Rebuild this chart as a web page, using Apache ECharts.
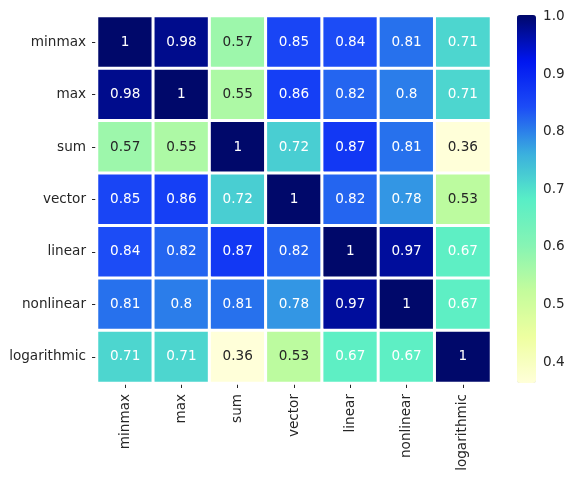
<!DOCTYPE html>
<html>
<head>
<meta charset="utf-8">
<script src="https://cdn.jsdelivr.net/npm/echarts@6/dist/echarts.min.js"></script>
<style>
  html, body { margin: 0; padding: 0; background: #fff; }
  #main { width: 575px; height: 479px; }
</style>
</head>
<body>
<div id="main"></div>
<script>
// 归一化方法相关性矩阵
const methods = ['minmax', 'max', 'sum', 'vector', 'linear', 'nonlinear', 'logarithmic'];
const rowMinmax = [1, 0.98, 0.57, 0.85, 0.84, 0.81, 0.71];
const rowMax = [0.98, 1, 0.55, 0.86, 0.82, 0.8, 0.71];
const rowSum = [0.57, 0.55, 1, 0.72, 0.87, 0.81, 0.36];
const rowVector = [0.85, 0.86, 0.72, 1, 0.82, 0.78, 0.53];
const rowLinear = [0.84, 0.82, 0.87, 0.82, 1, 0.97, 0.67];
const rowNonlinear = [0.81, 0.8, 0.81, 0.78, 0.97, 1, 0.67];
const rowLogarithmic = [0.71, 0.71, 0.36, 0.53, 0.67, 0.67, 1];
const colorbarTicks = [0.4, 0.5, 0.6, 0.7, 0.8, 0.9, 1.0];

const rows = [rowMinmax, rowMax, rowSum, rowVector, rowLinear, rowNonlinear, rowLogarithmic];
let heatData = [];
rows.forEach((row, y) => {
    row.forEach((v, x) => {
        heatData.push([x, y, v]);
    });
});

const font = 'DejaVu Sans';
const txt = '#262626';
const fs = 13.6;

let myChart = echarts.init(document.getElementById('main'));
let option = {
    animation: false,
    textStyle: { fontFamily: font },
    grid: [
        { left: 97, top: 16, width: 394, height: 367 },
        { left: 517, top: 15, width: 19, height: 368 }
    ],
    xAxis: [
        {
            type: 'category',
            data: methods,
            gridIndex: 0,
            axisLine: { show: false },
            axisTick: { show: true, length: 5, alignWithLabel: true, lineStyle: { color: txt } },
            axisLabel: { rotate: 90, fontSize: fs, color: txt, margin: 11, fontFamily: font },
            splitLine: { show: false }
        },
        {
            type: 'value',
            gridIndex: 1,
            show: false
        }
    ],
    yAxis: [
        {
            type: 'category',
            data: methods,
            inverse: true,
            gridIndex: 0,
            axisLine: { show: false },
            axisTick: { show: true, length: 5, alignWithLabel: true, lineStyle: { color: txt } },
            axisLabel: { fontSize: fs, color: txt, margin: 11, fontFamily: font },
            splitLine: { show: false }
        },
        {
            type: 'value',
            gridIndex: 1,
            position: 'right',
            min: 0.3635,
            max: 1.003,
            axisLine: { show: false },
            axisTick: { show: true, length: 4, customValues: colorbarTicks, lineStyle: { color: txt } },
            axisLabel: {
                show: true, fontSize: fs, color: txt, margin: 7, fontFamily: font,
                customValues: colorbarTicks,
                formatter: v => v.toFixed(1)
            },
            splitLine: { show: false }
        }
    ],
    visualMap: {
        type: 'continuous',
        min: 0.36,
        max: 1.0,
        seriesIndex: 0,
        orient: 'vertical',
        left: 517,
        top: 15,
        itemWidth: 19,
        itemHeight: 368,
        padding: 0,
        calculable: false,
        text: ['', ''],
        textGap: 0,
        inRange: {
            color: ['#ffffd9', '#eeffa0', '#c4fc9c', '#86f4b4', '#58eec6',
                '#3aaede', '#1c4cf6', '#0016f0', '#00086a']
        }
    },
    series: [
        {
            type: 'heatmap',
            data: heatData,
            xAxisIndex: 0,
            yAxisIndex: 0,
            itemStyle: { borderColor: '#fff', borderWidth: 3 },
            label: {
                show: true,
                fontSize: fs,
                fontFamily: font,
                formatter: p => {
                    const v = p.value[2];
                    return v < 0.6 ? '{d|' + v + '}' : '{w|' + v + '}';
                },
                rich: {
                    d: { color: txt, fontSize: fs, fontFamily: font },
                    w: { color: '#ffffff', fontSize: fs, fontFamily: font }
                }
            },
            emphasis: { disabled: true }
        }
    ]
};
myChart.setOption(option);
</script>
</body>
</html>
